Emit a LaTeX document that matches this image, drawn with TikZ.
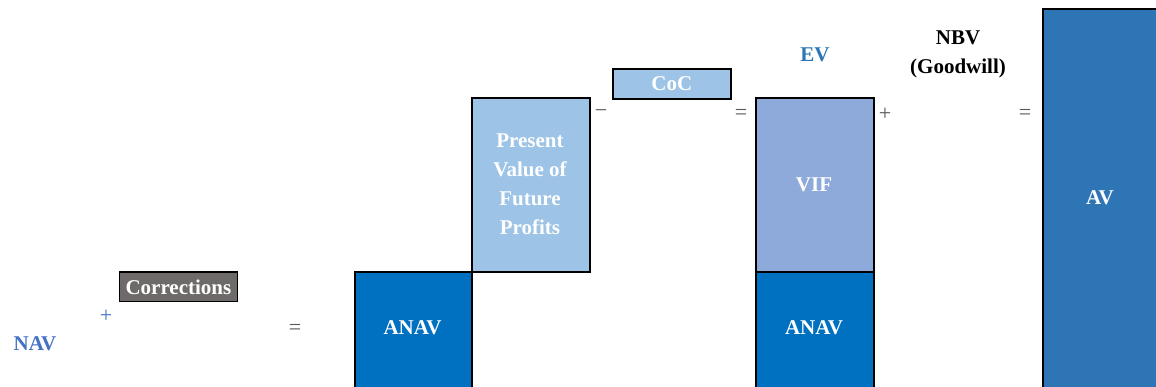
\documentclass[tikz,border=0pt]{standalone}
\usepackage{fontspec}
\setmainfont{Liberation Serif}
\definecolor{navblue}{HTML}{4472C4}
\definecolor{evblue}{HTML}{2E75B6}
\definecolor{anavblue}{HTML}{0070C0}
\definecolor{lightblue}{HTML}{9DC3E6}
\definecolor{vifblue}{HTML}{8EAADB}
\definecolor{avblue}{HTML}{2E75B6}
\definecolor{corrgray}{HTML}{6E6A69}
\definecolor{opgray}{HTML}{595959}
\tikzset{
  txt/.style={font=\fontsize{21}{29}\selectfont\bfseries, inner sep=0pt, align=center},
  box/.style={txt, draw=black, line width=1.8pt, text=white, anchor=north west},
  op/.style={font=\fontsize{22}{24}\selectfont, inner sep=0pt, text=opgray},
}
\begin{document}
\begin{tikzpicture}[x=1pt,y=-1pt]
\useasboundingbox (0,0) rectangle (1156,387);
\clip (0,0) rectangle (1156,387);
\fill[white] (0,0) rectangle (1156,387);
% left part
\node[txt, text=navblue] (nav) at (35,344) {NAV};
\node[op, text=navblue] (plus1) at (106,316) {+};
\node[box, fill=corrgray, minimum width=118pt, minimum height=29pt] (corr) at (118.5,271.5) {Corrections};
\node[op] (eq1) at (295,329) {=};
% ANAV + PVFP
\node[box, fill=anavblue, minimum width=117pt, minimum height=120pt] (anav1) at (354,271) {};
\node[txt, text=white] (anav1t) at (412.5,328) {ANAV};
\node[box, fill=lightblue, minimum width=118pt, minimum height=174pt] (pvfp) at (471,97) {};
\node[txt, text=white] (pvfpt) at (530,184) {Present\\Value of\\Future\\Profits};
\node[op] (minus) at (601,114) {\textminus};
\node[box, fill=lightblue, minimum width=118pt, minimum height=30pt] (coc) at (612,68) {CoC};
\node[op] (eq2) at (741,114) {=};
% EV column
\node[txt, text=evblue] (ev) at (815,55) {EV};
\node[box, fill=vifblue, minimum width=118pt, minimum height=174pt] (vif) at (755,97) {};
\node[txt, text=white] (vift) at (814,185) {VIF};
\node[box, fill=anavblue, minimum width=118pt, minimum height=120pt] (anav2) at (755,271) {};
\node[txt, text=white] (anav2t) at (814,328) {ANAV};
\node[op] (plus2) at (885,114) {+};
\node[txt, text=black] (nbv) at (958,54) {NBV\\(Goodwill)};
\node[op] (eq3) at (1025,114) {=};
% AV
\node[box, fill=avblue, minimum width=120pt, minimum height=385pt] (av) at (1042,8) {};
\node[txt, text=white] (avt) at (1100,198) {AV};
\end{tikzpicture}
\end{document}
